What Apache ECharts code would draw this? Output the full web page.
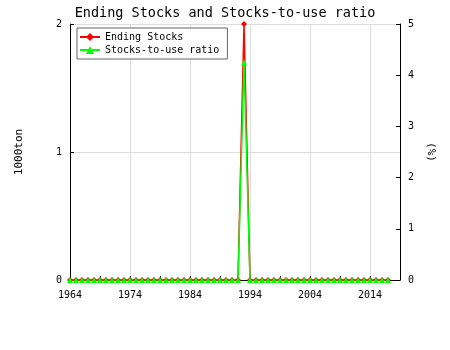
<!DOCTYPE html>
<html><head><meta charset="utf-8">
<script src="https://cdn.jsdelivr.net/npm/echarts@6/dist/echarts.min.js"></script>
<style>html,body{margin:0;padding:0;background:#fff}#c{width:450px;height:350px}</style>
</head><body><div id="c"></div>
<script>
const years = [];
for (let y = 1964; y <= 2017; y++) years.push(y);
// Ending stocks (1000ton): zero everywhere except 1993
const endingStocks = [0,0,0,0,0,0,0,0,0,0, 0,0,0,0,0,0,0,0,0,0, 0,0,0,0,0,0,0,0,0,2.0, 0,0,0,0,0,0,0,0,0,0, 0,0,0,0,0,0,0,0,0,0, 0,0,0,0];
// Stocks-to-use ratio (%)
const ratio = [0,0,0,0,0,0,0,0,0,0, 0,0,0,0,0,0,0,0,0,0, 0,0,0,0,0,0,0,0,0,4.25, 0,0,0,0,0,0,0,0,0,0, 0,0,0,0,0,0,0,0,0,0, 0,0,0,0];
const xTicks = [1964, 1974, 1984, 1994, 2004, 2014];
const leftTicks = [0, 1, 2];
const rightTicks = [0, 1, 2, 3, 4, 5];

const FONT = '"DejaVu Sans Mono", monospace';
const chart = echarts.init(document.getElementById('c'), null, {renderer: 'canvas'});
const axisCommon = {
  axisLine: {show: true, lineStyle: {color: '#000', width: 1}},
  axisTick: {show: true, inside: true, length: 4, lineStyle: {color: '#000'}},
  axisLabel: {color: '#000', fontFamily: FONT, fontSize: 10}
};
chart.setOption({
  animation: false,
  backgroundColor: '#fff',
  title: {
    text: 'Ending Stocks and Stocks-to-use ratio',
    left: 'center', top: 1,
    textStyle: {fontFamily: FONT, fontSize: 13.5, fontWeight: 'normal', color: '#000'}
  },
  legend: {
    orient: 'vertical', left: 77, top: 28,
    padding: [4, 8, 4, 2], itemGap: 3, itemWidth: 20, itemHeight: 10,
    backgroundColor: '#fff', borderColor: '#666', borderWidth: 1, borderRadius: 0,
    textStyle: {fontFamily: FONT, fontSize: 10, color: '#000'},
    data: ['Ending Stocks', 'Stocks-to-use ratio']
  },
  grid: {left: 70, right: 50, top: 24, bottom: 70, containLabel: false},
  xAxis: Object.assign({}, axisCommon, {
    type: 'value', min: 1964, max: 2019, interval: 10,
    axisLabel: {color: '#000', fontFamily: FONT, fontSize: 10, margin: 10,
      customValues: xTicks, formatter: v => String(v)},
    axisTick: {show: true, inside: true, length: 4, lineStyle: {color: '#000'}},
    minorTick: {show: true, splitNumber: 2, length: 4, lineStyle: {color: '#000'}},
    splitLine: {show: true, lineStyle: {color: '#dcdcdc', width: 1}}
  }),
  yAxis: [
    Object.assign({}, axisCommon, {
      type: 'value', min: 0, max: 2, interval: 1, position: 'left',
      name: '1000ton', nameLocation: 'middle', nameGap: 45, nameRotate: 90,
      nameTextStyle: {fontFamily: FONT, fontSize: 11, color: '#000'},
      axisLabel: {color: '#000', fontFamily: FONT, fontSize: 10, margin: 8},
      splitLine: {show: true, lineStyle: {color: '#dcdcdc', width: 1}}
    }),
    Object.assign({}, axisCommon, {
      type: 'value', min: 0, max: 5, interval: 1, position: 'right',
      name: '(%)', nameLocation: 'middle', nameGap: 25, nameRotate: -90,
      nameTextStyle: {fontFamily: FONT, fontSize: 11, color: '#000'},
      axisLabel: {color: '#000', fontFamily: FONT, fontSize: 10, margin: 8},
      splitLine: {show: false}
    })
  ],
  series: [
    {
      name: 'Ending Stocks', type: 'line', yAxisIndex: 0,
      data: years.map((y, i) => [y, endingStocks[i]]),
      symbol: 'diamond', symbolSize: 6, showAllSymbol: true,
      itemStyle: {color: '#ff0000'},
      lineStyle: {color: '#ff0000', width: 1.5}
    },
    {
      name: 'Stocks-to-use ratio', type: 'line', yAxisIndex: 1,
      data: years.map((y, i) => [y, ratio[i]]),
      symbol: 'triangle', symbolSize: 6, showAllSymbol: true,
      itemStyle: {color: '#00ff00'},
      lineStyle: {color: '#00ff00', width: 1.5}
    }
  ]
});
</script>
</body></html>
